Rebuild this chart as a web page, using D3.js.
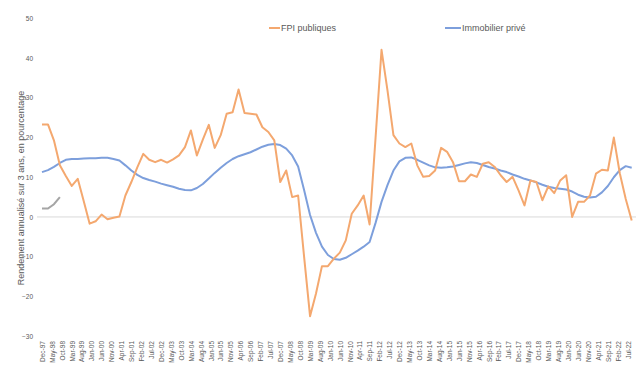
<!DOCTYPE html>
<html>
<head>
<meta charset="utf-8">
<script src="https://cdn.jsdelivr.net/npm/d3@7"></script>
<style>
  body { margin: 0; background: #fff; }
  svg text { font-family: "Liberation Sans", Arial, sans-serif; fill: #595959; }
</style>
</head>
<body>
<svg id="chart" width="640" height="372"></svg>
<script>
// quarterly observations, first one is Dec-97
const startMonth = new Date(1997, 11, 1)
const stepMonths = 3

const fpiPubliques = [
    23.3, 23.3, 19.3, 13.0, 10.3, 7.8, 9.6, 4.0, -1.7, -1.1,
    0.6, -0.6, -0.2, 0.1, 5.4, 8.8, 12.5, 15.9, 14.4, 13.8,
    14.4, 13.7, 14.5, 15.5, 17.6, 21.8, 15.5, 19.5, 23.2, 17.4,
    20.6, 26.0, 26.4, 32.1, 26.2, 26.0, 25.8, 22.6, 21.4, 19.3,
    8.8, 11.7, 5.0, 5.4, -10.0, -25.0, -19.3, -12.4, -12.4, -10.5,
    -9.0, -5.9, 0.8, 2.9, 5.4, -1.9, 20.0, 42.1, 31.9, 20.6,
    18.5, 17.6, 18.5, 13.0, 10.1, 10.3, 11.7, 17.4, 16.4, 13.8,
    9.0, 9.0, 10.7, 10.1, 13.4, 13.8, 12.6, 10.5, 8.8, 10.1,
    6.7, 2.9, 9.2, 8.8, 4.2, 7.7, 6.0, 9.2, 10.5, 0.0,
    3.8, 3.8, 5.4, 10.9, 11.9, 11.7, 20.0, 11.0, 4.5, -0.9
]

const immobilierPrive = [
    11.3, 11.8, 12.6, 13.6, 14.4, 14.6, 14.6, 14.7, 14.8, 14.8,
    14.9, 14.9, 14.6, 14.2, 13.0, 11.7, 10.6, 9.8, 9.3, 8.9,
    8.4, 8.0, 7.6, 7.1, 6.8, 6.7, 7.3, 8.3, 9.7, 11.1,
    12.4, 13.6, 14.6, 15.3, 15.8, 16.3, 17.0, 17.7, 18.2, 18.4,
    18.1, 17.2, 15.5, 12.7, 6.8, 0.5, -4.0, -7.5, -9.6, -10.6,
    -10.8, -10.3, -9.4, -8.5, -7.5, -6.3, -1.5, 3.8, 8.0, 11.7,
    14.0, 14.9, 15.0, 14.4, 13.7, 13.0, 12.5, 12.4, 12.5, 12.7,
    13.1, 13.5, 13.8, 13.6, 13.1, 12.6, 12.2, 11.7, 11.3, 10.7,
    10.2, 9.6, 9.2, 8.7, 8.1, 7.6, 7.3, 7.1, 6.9, 6.4,
    5.6, 5.1, 4.9, 5.1, 6.2, 7.8, 10.0, 11.8, 12.8, 12.4
]

// short third series with no legend entry
const serieGrise = [2.1, 2.1, 3.2, 5.0]

const yTicks = [50, 40, 30, 20, 10, 0, -10, -20, -30]
const labelEveryMonths = 5
const lastLabelMonth = 295

const seriesInfo = [
    { name: 'FPI publiques', values: fpiPubliques, color: '#f4a86f' },
    { name: 'Immobilier privé', values: immobilierPrive, color: '#7d9fdc' }
]

const svg = d3.select('#chart')

const lastMonth = (fpiPubliques.length - 1) * stepMonths
const x = d3.scaleLinear()
    .domain([0, lastMonth])
    .range([42, 631.7])
const y = d3.scaleLinear()
    .domain([-30, 50])
    .range([336, 18.5])

const fmt = d3.timeFormat('%b-%y')

// zero line
svg.append('line')
    .attr('x1', 37)
    .attr('x2', 636)
    .attr('y1', y(0))
    .attr('y2', y(0))
    .attr('stroke', '#d9d9d9')
    .attr('stroke-width', 1)

// y axis labels, no axis line
const yAxis = d3.axisLeft(y)
    .tickValues(yTicks)
    .tickSize(0)
    .tickPadding(0)
const gy = svg.append('g')
    .attr('transform', 'translate(33,0)')
    .call(yAxis)
gy.select('.domain').remove()
gy.selectAll('text')
    .attr('font-size', 6.5)
    .attr('fill', '#595959')
    .attr('font-family', '"Liberation Sans", Arial, sans-serif')

// x axis labels, rotated
const labelMonths = d3.range(0, lastLabelMonth + 1, labelEveryMonths)
const xAxis = d3.axisBottom(x)
    .tickValues(labelMonths)
    .tickSize(0)
    .tickFormat(m => fmt(d3.timeMonth.offset(startMonth, m)))
const gx = svg.append('g')
    .attr('transform', 'translate(0,341)')
    .call(xAxis)
gx.select('.domain').remove()
gx.selectAll('text')
    .attr('font-size', 6.5)
    .attr('fill', '#595959')
    .attr('font-family', '"Liberation Sans", Arial, sans-serif')
    .attr('transform', 'rotate(-90)')
    .attr('text-anchor', 'end')
    .attr('x', 0)
    .attr('y', 0)
    .attr('dy', '0.35em')

// axis title
svg.append('text')
    .attr('transform', 'translate(24,188) rotate(-90)')
    .attr('text-anchor', 'middle')
    .attr('font-size', 9)
    .text('Rendement annualisé sur 3 ans, en pourcentage')

const line = d3.line()
    .x((d, i) => x(i * stepMonths))
    .y(d => y(d))

svg.append('path')
    .datum(serieGrise)
    .attr('d', line)
    .attr('fill', 'none')
    .attr('stroke', '#a5a5a5')
    .attr('stroke-width', 2)

svg.selectAll('path.serie')
    .data(seriesInfo.slice().reverse())
    .enter()
    .append('path')
    .attr('class', 'serie')
    .attr('d', d => line(d.values))
    .attr('fill', 'none')
    .attr('stroke', d => d.color)
    .attr('stroke-width', 2)
    .attr('stroke-linejoin', 'round')

// legend
const legendPos = [
    { x1: 269, x2: 280 },
    { x1: 445, x2: 461 }
]
const gLegend = svg.append('g').attr('class', 'legend')
seriesInfo.forEach((s, i) => {
    const p = legendPos[i]
    gLegend.append('line')
        .attr('x1', p.x1)
        .attr('x2', p.x2)
        .attr('y1', 28)
        .attr('y2', 28)
        .attr('stroke', s.color)
        .attr('stroke-width', 2)
    gLegend.append('text')
        .attr('x', p.x2 + 1)
        .attr('y', 28)
        .attr('dy', '0.35em')
        .attr('font-size', 9)
        .text(s.name)
})
</script>
</body>
</html>
